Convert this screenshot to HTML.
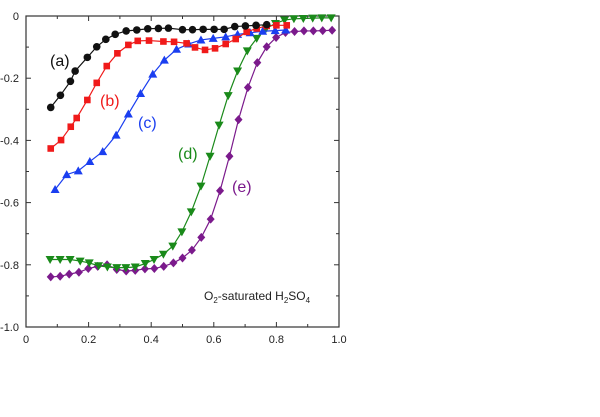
<!DOCTYPE html>
<html><head><meta charset="utf-8"><style>
html,body{margin:0;padding:0;background:#fff;width:600px;height:417px;overflow:hidden}
svg{display:block;font-family:"Liberation Sans",Arial,sans-serif}
</style></head><body>
<svg id="chart" width="600" height="417"></svg>
<script>
const xTicks=[0,0.2,0.4,0.6,0.8,1.0];
const xTickLabels=["0","0.2","0.4","0.6","0.8","1.0"];
const yTicks=[0,-0.2,-0.4,-0.6,-0.8,-1.0];
const yTickLabels=["0","-0.2","-0.4","-0.6","-0.8","-1.0"];
const aX=[0.079,0.11,0.142,0.157,0.196,0.226,0.255,0.285,0.32,0.354,0.389,0.423,0.455,0.5,0.532,0.566,0.601,0.633,0.667,0.701,0.735,0.769];
const aY=[-0.294,-0.255,-0.21,-0.177,-0.133,-0.099,-0.075,-0.059,-0.048,-0.045,-0.041,-0.04,-0.039,-0.044,-0.044,-0.043,-0.043,-0.043,-0.034,-0.032,-0.03,-0.028];
const bX=[0.079,0.112,0.143,0.162,0.196,0.226,0.258,0.292,0.327,0.357,0.393,0.439,0.473,0.513,0.54,0.572,0.604,0.638,0.67,0.705,0.737,0.769,0.8,0.833];
const bY=[-0.426,-0.399,-0.356,-0.328,-0.27,-0.215,-0.161,-0.12,-0.093,-0.08,-0.079,-0.082,-0.083,-0.088,-0.101,-0.109,-0.104,-0.09,-0.074,-0.051,-0.04,-0.032,-0.03,-0.03];
const cX=[0.093,0.13,0.167,0.204,0.245,0.288,0.327,0.366,0.405,0.442,0.481,0.52,0.559,0.598,0.638,0.676,0.716,0.756,0.796,0.83];
const cY=[-0.558,-0.51,-0.498,-0.468,-0.436,-0.383,-0.315,-0.249,-0.187,-0.142,-0.107,-0.09,-0.077,-0.072,-0.067,-0.059,-0.054,-0.049,-0.047,-0.045];
const dX=[0.077,0.109,0.141,0.173,0.202,0.232,0.26,0.29,0.319,0.349,0.381,0.409,0.439,0.469,0.498,0.528,0.559,0.588,0.617,0.646,0.676,0.707,0.737,0.767,0.797,0.826,0.856,0.886,0.916,0.945,0.975];
const dY=[-0.783,-0.783,-0.783,-0.788,-0.794,-0.803,-0.807,-0.809,-0.809,-0.807,-0.796,-0.783,-0.766,-0.74,-0.694,-0.63,-0.547,-0.451,-0.351,-0.256,-0.177,-0.112,-0.072,-0.04,-0.024,-0.013,-0.009,-0.008,-0.007,-0.006,-0.006];
const eX=[0.079,0.109,0.138,0.169,0.199,0.229,0.259,0.29,0.32,0.349,0.38,0.41,0.44,0.471,0.5,0.53,0.56,0.59,0.62,0.65,0.679,0.709,0.739,0.769,0.799,0.829,0.858,0.888,0.918,0.948,0.978];
const eY=[-0.839,-0.837,-0.83,-0.824,-0.812,-0.805,-0.8,-0.815,-0.82,-0.818,-0.813,-0.812,-0.805,-0.794,-0.778,-0.753,-0.712,-0.653,-0.562,-0.451,-0.333,-0.23,-0.15,-0.099,-0.069,-0.053,-0.05,-0.048,-0.048,-0.047,-0.046];

const L=26,R=339,T=16,B=327;
const sx=v=>L+v*(R-L);
const sy=v=>T+(-v)*(B-T);
const NS="http://www.w3.org/2000/svg";
const svg=document.getElementById('chart');
function mk(tag,attrs,parent){const e=document.createElementNS(NS,tag);for(const k in attrs)e.setAttribute(k,attrs[k]);(parent||svg).appendChild(e);return e;}

const frame=mk('rect',{x:L,y:T,width:R-L,height:B-T,fill:'none',stroke:'#333','stroke-width':1.2});



for(let i=0;i<=10;i++){
  const len=i%2===0?5:3;
  const xv=i/10, yv=-i/10;
  const t1=mk('line',{x1:sx(xv),x2:sx(xv),y1:B,y2:B-len,stroke:'#333'});
  
  
  const t2=mk('line',{x1:sx(xv),x2:sx(xv),y1:T,y2:T+len,stroke:'#333'});
  
  
  const t3=mk('line',{x1:L,x2:L+len,y1:sy(yv),y2:sy(yv),stroke:'#333'});
  
  
  const t4=mk('line',{x1:R,x2:R-len,y1:sy(yv),y2:sy(yv),stroke:'#333'});
  
  
}
xTicks.forEach((v,i)=>{
  const t=mk('text',{x:sx(v),y:B+16,'text-anchor':'middle','font-size':11,fill:'#222'});
  t.textContent=xTickLabels[i];
  
  
});
yTicks.forEach((v,i)=>{
  const t=mk('text',{x:L-7,y:sy(v)+4,'text-anchor':'end','font-size':11,fill:'#222'});
  t.textContent=yTickLabels[i];
  
  
});

function series(xs,ys,color,shape,name){
  const g=mk('g',{});
  
  
  const pts=xs.map((x,i)=>sx(x)+','+sy(ys[i])).join(' ');
  mk('polyline',{points:pts,fill:'none',stroke:color,'stroke-width':1.2},g);
  xs.forEach((x,i)=>{
    const cx=sx(x),cy=sy(ys[i]);let m;
    if(shape==='circle')m=mk('circle',{cx:cx,cy:cy,r:3.8,fill:color},g);
    else if(shape==='square')m=mk('rect',{x:cx-3.3,y:cy-3.3,width:6.6,height:6.6,fill:color},g);
    else if(shape==='up')m=mk('polygon',{points:`${cx},${cy-4.5} ${cx-4.5},${cy+3.5} ${cx+4.5},${cy+3.5}`,fill:color},g);
    else if(shape==='down')m=mk('polygon',{points:`${cx},${cy+4.5} ${cx-4.5},${cy-3.5} ${cx+4.5},${cy-3.5}`,fill:color},g);
    else m=mk('polygon',{points:`${cx},${cy-4.5} ${cx+4},${cy} ${cx},${cy+4.5} ${cx-4},${cy}`,fill:color},g);
    
    
  });
}
series(eX,eY,'#7b1a8c','diamond','series-e');
series(dX,dY,'#1a8a1a','down','series-d');
series(cX,cY,'#1a3ef0','up','series-c');
series(bX,bY,'#f01a1a','square','series-b');
series(aX,aY,'#111','circle','series-a');

function label(txt,x,y,color,name){
  const t=mk('text',{x:x,y:y,'font-size':16,fill:color});
  t.textContent=txt;
  
  
}
label('(a)',50,66,'#111','label-a');
label('(b)',100,106,'#f01a1a','label-b');
label('(c)',138,128,'#1a3ef0','label-c');
label('(d)',178,159,'#1a8a1a','label-d');
label('(e)',232,192,'#7b1a8c','label-e');
</script>
<svg style="position:absolute;left:0;top:0" width="600" height="417">
<text x="204" y="300" font-size="12" fill="#222" font-family="Liberation Sans, sans-serif">O<tspan font-size="8" dy="3">2</tspan><tspan dy="-3">-saturated H</tspan><tspan font-size="8" dy="3">2</tspan><tspan dy="-3">SO</tspan><tspan font-size="8" dy="3">4</tspan></text>
</svg>
</body></html>
